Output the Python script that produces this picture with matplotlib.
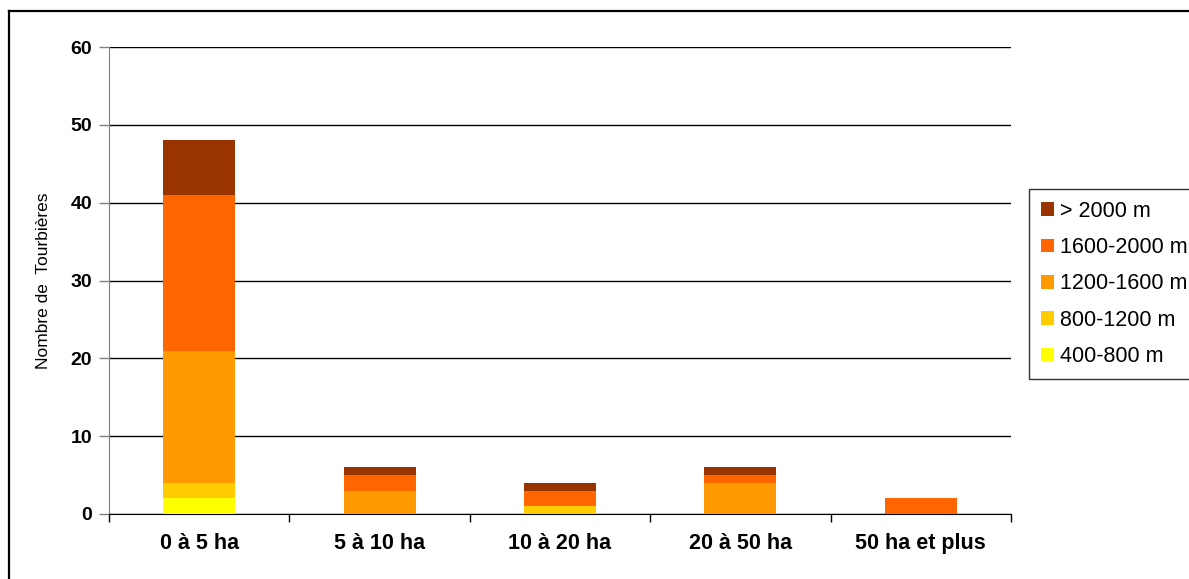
import matplotlib
matplotlib.use("Agg")
import matplotlib.pyplot as plt
from matplotlib.lines import Line2D
import numpy as np

plt.rcParams['font.family'] = ['Liberation Sans', 'DejaVu Sans']

categories = ["0 à 5 ha", "5 à 10 ha", "10 à 20 ha", "20 à 50 ha", "50 ha et plus"]
series_names = ["400-800 m", "800-1200 m", "1200-1600 m", "1600-2000 m", "> 2000 m"]
s_400_800 = [2, 0, 0, 0, 0]
s_800_1200 = [2, 0, 1, 0, 0]
s_1200_1600 = [17, 3, 0, 4, 0]
s_1600_2000 = [20, 2, 2, 1, 2]
s_2000 = [7, 1, 1, 1, 0]
series = [s_400_800, s_800_1200, s_1200_1600, s_1600_2000, s_2000]
colors = ["#FFFF00", "#FFCC00", "#FF9900", "#FF6600", "#993300"]
yticks = [0, 10, 20, 30, 40, 50, 60]

W, H = 1189, 579
fig = plt.figure(figsize=(W/100, H/100), dpi=100)
ax = fig.add_axes([109/W, 1 - 514/H, (1011-109)/W, (514-47)/H])

x = np.arange(len(categories))
bottom = np.zeros(len(categories))
handles = []
for name, vals, c in zip(series_names, series, colors):
    h = ax.bar(x, vals, width=0.4, bottom=bottom, color=c, label=name, zorder=3)
    handles.append(h)
    bottom += np.array(vals)

ax.set_xlim(-0.5, len(categories) - 0.5)
ax.set_ylim(0, 60)
ax.set_yticks(yticks)
ax.set_yticklabels([str(v) for v in yticks], fontsize=14, fontweight='bold')
ax.yaxis.grid(True, color='black', linewidth=1, zorder=0)
ax.set_axisbelow(True)

ax.set_xticks(x)
ax.set_xticklabels(categories, fontsize=15.5, fontweight='bold')
ax.tick_params(axis='x', which='major', length=0, pad=14)
ax.set_xticks(np.arange(-0.5, len(categories)), minor=True)
ax.tick_params(axis='x', which='minor', length=6, color='black', width=1)
ax.tick_params(axis='y', length=7, color='gray', width=1, pad=5)

for s in ['top', 'right']:
    ax.spines[s].set_visible(False)
ax.spines['left'].set_color('gray')
ax.spines['bottom'].set_color('black')

ax.set_ylabel("Nombre de  Tourbières", fontsize=12.5)
ax.yaxis.set_label_coords((51 - 109) / 902, 0.5)

leg = fig.legend(handles[::-1], series_names[::-1], loc='upper left',
                 bbox_to_anchor=(1029/W, 1 - 189/H), fontsize=15.5,
                 frameon=True, fancybox=False, edgecolor='black',
                 handlelength=0.6, handleheight=0.6, handletextpad=0.3,
                 labelspacing=0.71, borderpad=0.55, borderaxespad=0)
leg.get_frame().set_linewidth(1)

fig.add_artist(Line2D([9/W, 1], [1 - 11/H, 1 - 11/H], transform=fig.transFigure,
                      color='black', linewidth=1.6))
fig.add_artist(Line2D([9/W, 9/W], [0, 1 - 11/H], transform=fig.transFigure,
                      color='black', linewidth=1.6))

fig.savefig("out.png", dpi=100)
